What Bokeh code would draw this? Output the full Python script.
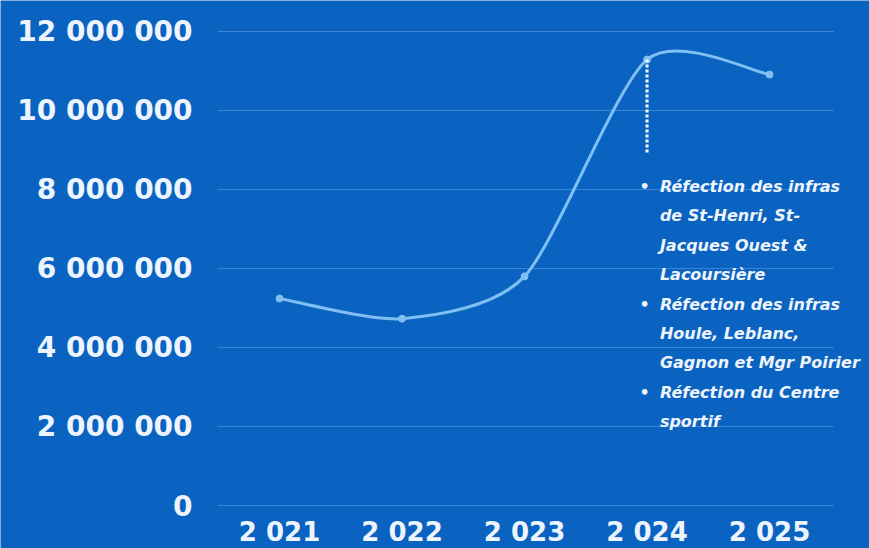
from bokeh.plotting import figure
from bokeh.models import Range1d, ColumnDataSource, LabelSet
from bokeh.core.properties import value
from bokeh.embed import file_html
from bokeh.resources import INLINE

# ---- data ----
years = ["2 021", "2 022", "2 023", "2 024", "2 025"]
values = [5.24e6, 4.73e6, 5.80e6, 11.29e6, 10.91e6]
y_ticks = [0, 2e6, 4e6, 6e6, 8e6, 10e6, 12e6]
y_tick_labels = ["0", "2 000 000", "4 000 000", "6 000 000", "8 000 000", "10 000 000", "12 000 000"]
note_year_index = 3
note_bottom_value = 8.9e6
note_lines = [
    ("•", "Réfection des infras"),
    ("", "de St-Henri, St-"),
    ("", "Jacques Ouest &"),
    ("", "Lacoursière"),
    ("•", "Réfection des infras"),
    ("", "Houle, Leblanc,"),
    ("", "Gagnon et Mgr Poirier"),
    ("•", "Réfection du Centre"),
    ("", "sportif"),
]

BG = "#0a63c0"
LINE = "#80bff3"
GRID = "#3a86d5"
TXT = "#eef4fd"

xs = list(range(len(years)))
n = len(xs)

# plot area spans the whole canvas; the chart area proper is x in [-0.506, 4.523]
GX0, GX1 = -0.506, 4.523
p = figure(width=869, height=548, output_backend="svg", toolbar_location=None,
           x_range=Range1d(-2.278, 4.816), y_range=Range1d(-1.089e6, 12.785e6),
           min_border_left=0, min_border_right=0, min_border_top=0, min_border_bottom=0)
p.background_fill_color = BG
p.border_fill_color = BG
p.outline_line_color = None
p.axis.visible = False
p.grid.visible = False

# horizontal grid lines at the y ticks
p.segment(x0=[GX0] * len(y_ticks), y0=y_ticks, x1=[GX1] * len(y_ticks), y1=y_ticks,
          line_color=GRID, line_width=1)

# y tick labels
src_y = ColumnDataSource(dict(x=[-0.71] * len(y_ticks), y=y_ticks, t=y_tick_labels))
p.add_layout(LabelSet(x="x", y="y", text="t", source=src_y, text_align="right",
                      text_baseline="middle", text_font=value("DejaVu Sans"),
                      text_font_style="bold", text_font_size="28px", text_color=TXT))

# smooth curve (Catmull-Rom through the data points)
tension = 0.75
x0s, y0s, x1s, y1s, cx0, cy0, cx1, cy1 = [], [], [], [], [], [], [], []
for i in range(n - 1):
    pm = i - 1 if i > 0 else i
    pp = i + 2 if i + 2 < n else i + 1
    x0s.append(xs[i]); y0s.append(values[i])
    x1s.append(xs[i + 1]); y1s.append(values[i + 1])
    cx0.append(xs[i] + (xs[i + 1] - xs[pm]) / 6 * tension)
    cy0.append(values[i] + (values[i + 1] - values[pm]) / 6 * tension)
    cx1.append(xs[i + 1] - (xs[pp] - xs[i]) / 6 * tension)
    cy1.append(values[i + 1] - (values[pp] - values[i]) / 6 * tension)
p.bezier(x0=x0s, y0=y0s, x1=x1s, y1=y1s, cx0=cx0, cy0=cy0, cx1=cx1, cy1=cy1,
         line_color=LINE, line_width=3)
p.scatter(xs, values, size=7, color=LINE)

# dotted marker
p.segment(x0=[xs[note_year_index]], y0=[values[note_year_index]],
          x1=[xs[note_year_index]], y1=[note_bottom_value],
          line_color="white", line_width=3, line_dash="3 2")

# x labels
src_x = ColumnDataSource(dict(x=xs, y=[-0.67e6] * n, t=years))
p.add_layout(LabelSet(x="x", y="y", text="t", source=src_x, text_align="center",
                      text_baseline="middle", text_font=value("DejaVu Sans"),
                      text_font_style="bold", text_font_size="26px", text_color=TXT))

# note text
step = 0.745e6
top = 8.08e6
ny = [top - i * step for i in range(len(note_lines))]
src_b = ColumnDataSource(dict(x=[note_year_index - 0.02] * len(note_lines), y=ny,
                              t=[b for b, _ in note_lines]))
src_t = ColumnDataSource(dict(x=[note_year_index + 0.105] * len(note_lines), y=ny,
                              t=[t for _, t in note_lines]))
common = dict(text_baseline="middle", text_font=value("DejaVu Sans"),
              text_font_style="bold italic", text_font_size="16px", text_color=TXT)
p.add_layout(LabelSet(x="x", y="y", text="t", source=src_b, text_align="center", **common))
p.add_layout(LabelSet(x="x", y="y", text="t", source=src_t, text_align="left", **common))

open("out.html", "w").write(file_html(p, INLINE))
